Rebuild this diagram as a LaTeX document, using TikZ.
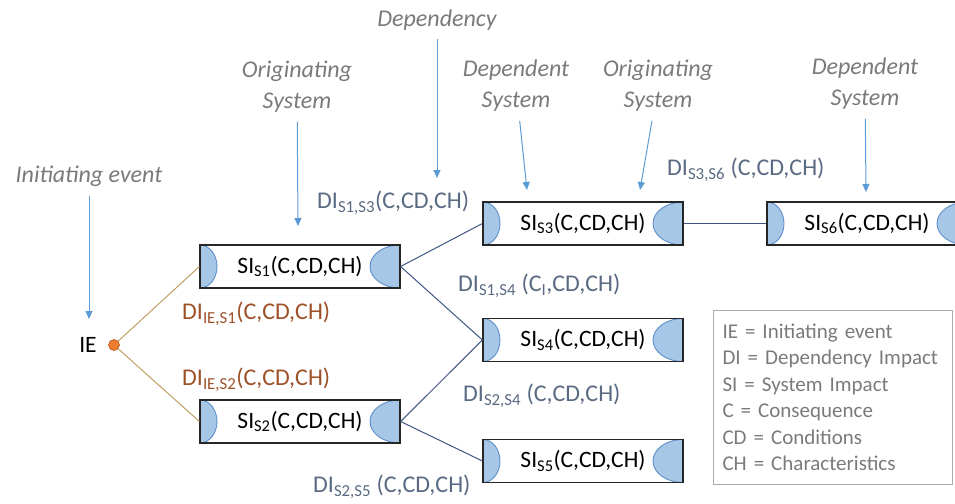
\documentclass[tikz,border=0pt]{standalone}
\usepackage{fontspec}
\setmainfont{Carlito}
\usetikzlibrary{arrows.meta}
\definecolor{boxline}{HTML}{262626}
\definecolor{capfill}{HTML}{A7C7E7}
\definecolor{capline}{HTML}{5E8FC8}
\definecolor{dicolor}{HTML}{596A82}
\definecolor{iecolor}{HTML}{9E5128}
\definecolor{ieline}{HTML}{BFA062}
\definecolor{sysline}{HTML}{3F5683}
\definecolor{notegray}{HTML}{7A7A7A}
\definecolor{arrowblue}{HTML}{5B9BD5}
\definecolor{dotfill}{HTML}{ED7D31}
\definecolor{dotline}{HTML}{B5541A}
\definecolor{legendline}{HTML}{ABABAB}
\tikzset{
  sibox/.style={draw=boxline, line width=1.2pt, fill=white, minimum width=200pt, minimum height=43pt, inner sep=0pt,
    path picture={\filldraw[fill=capfill, draw=capline, line width=0.9pt]
      (path picture bounding box.west) ellipse [x radius=17pt, y radius=21.5pt]
      (path picture bounding box.east) ellipse [x radius=30pt, y radius=21.5pt];}},
  dilbl/.style={text=dicolor, inner sep=0pt, anchor=west, font=\fontsize{24}{28}\selectfont},
  ielbl/.style={text=iecolor, inner sep=0pt, anchor=west, font=\fontsize{24}{28}\selectfont},
  note/.style={text=notegray, font=\fontsize{24}{31}\selectfont\itshape, align=center, inner sep=2pt},
  notearrow/.style={draw=arrowblue, line width=1pt, -{Triangle[length=8pt,width=7pt]}, shorten <=7pt},
  ieconn/.style={draw=ieline, line width=1pt},
  sysconn/.style={draw=sysline, line width=1pt},
  iedot/.style={circle, fill=dotfill, draw=dotline, line width=0.6pt, minimum size=11pt, inner sep=0pt},
  legend/.style={draw=legendline, line width=1pt, text=notegray, align=left, text width=221pt, inner xsep=9pt,
    minimum height=174pt, font=\fontsize{21}{26.5}\selectfont}
}
\begin{document}
\begin{tikzpicture}[x=1pt, y=-1pt, font=\fontsize{23.5}{28}\selectfont]
\useasboundingbox (0,0) rectangle (955,503);
\clip (0,0) rectangle (955,503);

\node (ie) at (88,345) {IE}; \node[iedot] (iedot) at (114,345) {};

\node[sibox] (s1) at (300,266.5) {SI\textsubscript{S1}(C,CD,CH)};
\node[sibox] (s2) at (300,421.5) {SI\textsubscript{S2}(C,CD,CH)};
\node[sibox] (s3) at (583,223.5) {SI\textsubscript{S3}(C,CD,CH)};
\node[sibox] (s4) at (583,340) {SI\textsubscript{S4}(C,CD,CH)};
\node[sibox] (s5) at (583,461) {SI\textsubscript{S5}(C,CD,CH)};
\node[sibox] (s6) at (867,223.5) {SI\textsubscript{S6}(C,CD,CH)};

\draw[ieconn] (iedot) -- (s1.west); \draw[ieconn] (iedot) -- (s2.west);
\draw[sysconn] (s1.east) -- (s3.west); \draw[sysconn] (s1.east) -- (s4.west);
\draw[sysconn] (s2.east) -- (s4.west); \draw[sysconn] (s2.east) -- (s5.west);
\draw[sysconn] (s3.east) -- (s6.west);

\node[ielbl] (di-ie-s1) at (182,314) {DI\textsubscript{IE,S1}(C,CD,CH)};
\node[ielbl] (di-ie-s2) at (182,380) {DI\textsubscript{IE,S2}(C,CD,CH)};
\node[dilbl] (di-s1-s3) at (317,203) {DI\textsubscript{S1,S3}(C,CD,CH)};
\node[dilbl] (di-s1-s4) at (458,286) {DI\textsubscript{S1,S4} (C\textsubscript{I},CD,CH)};
\node[dilbl] (di-s2-s4) at (463,396) {DI\textsubscript{S2,S4} (C,CD,CH)};
\node[dilbl] (di-s2-s5) at (313,487) {DI\textsubscript{S2,S5} (C,CD,CH)};
\node[dilbl] (di-s3-s6) at (667,170) {DI\textsubscript{S3,S6} (C,CD,CH)};

\node[note] (n-ie) at (89,176) {Initiating event};
\node[note] (n-orig1) at (297,87) {Originating\\System};
\node[note] (n-dep) at (437,20) {Dependency};
\node[note] (n-dep1) at (516,86) {Dependent\\System};
\node[note] (n-orig2) at (658,86) {Originating\\System};
\node[note] (n-dep2) at (865,84) {Dependent\\System};

\coordinate (t-ie) at (89,319); \coordinate (t-orig1) at (298,226);
\coordinate (t-dep) at (437,178); \coordinate (t-dep1) at (527,190);
\coordinate (t-orig2) at (640,190); \coordinate (t-dep2) at (866,192);

\draw[notearrow] (n-ie) -- (t-ie); \draw[notearrow] (n-orig1) -- (t-orig1);
\draw[notearrow] (n-dep) -- (t-dep); \draw[notearrow] (n-dep1) -- (t-dep1);
\draw[notearrow] (n-orig2) -- (t-orig2); \draw[notearrow] (n-dep2) -- (t-dep2);

\node[legend, anchor=north west] (legend) at (713,310) {IE = Initiating event\\DI = Dependency Impact\\SI = System Impact\\C = Consequence\\CD = Conditions\\CH = Characteristics};
\end{tikzpicture}
\end{document}
